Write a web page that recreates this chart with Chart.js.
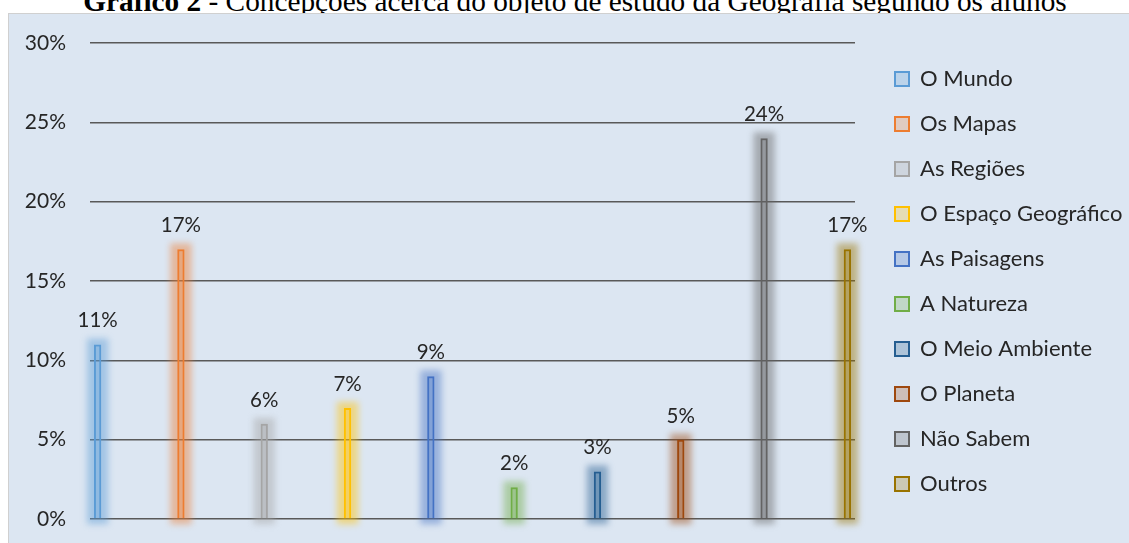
<!DOCTYPE html>
<html>
<head>
<meta charset="utf-8">
<script src="https://cdn.jsdelivr.net/npm/chart.js@4/dist/chart.umd.min.js"></script>
<style>
  body { margin: 0; background: #fff; width: 1129px; height: 543px; overflow: hidden; position: relative; }
  #title {
    position: absolute; left: 0; width: 1150px; top: -13px; text-align: center;
    font-family: "Liberation Serif", "Times New Roman", serif; font-size: 29.3px; line-height: 29px;
    color: #000; white-space: nowrap;
  }
  #box {
    position: absolute; left: 8px; top: 13px; width: 1130px; height: 540px;
    background: #dce6f2; border: 1px solid #d0d0d0;
  }
  #wrap { position: absolute; left: 9px; top: 14px; width: 1120px; height: 529px; }
</style>
</head>
<body>
<div id="title"><b>Gráfico 2</b> - Concepções acerca do objeto de estudo da Geografia segundo os alunos</div>
<div id="box"></div>
<div id="wrap"><canvas id="chart"></canvas></div>
<script>
const categories = [''];
const series = ['O Mundo', 'Os Mapas', 'As Regiões', 'O Espaço Geográfico', 'As Paisagens',
  'A Natureza', 'O Meio Ambiente', 'O Planeta', 'Não Sabem', 'Outros'];
const values = [11, 17, 6, 7, 9, 2, 3, 5, 24, 17];
const colors = ['#5b9bd5', '#ed7d31', '#a5a5a5', '#ffc000', '#4472c4',
  '#70ad47', '#255e91', '#9e480e', '#636363', '#997300'];

const FONT = 'Lato';
const LEGEND_SIZE = 22;
const LEGEND_PAD = 23;

function alpha(hex, a) {
  const n = parseInt(hex.slice(1), 16);
  return `rgba(${(n >> 16) & 255}, ${(n >> 8) & 255}, ${n & 255}, ${a})`;
}

// soft glow behind each bar
const glow = {
  id: 'glow',
  beforeDatasetDraw(chart, args) {
    const ctx = chart.ctx;
    const bar = args.meta.data[0];
    const w = bar.width + 14;
    ctx.save();
    ctx.filter = 'blur(3px)';
    ctx.fillStyle = alpha(colors[args.index], 0.45);
    ctx.fillRect(bar.x - w / 2, bar.y - 6, w, bar.base - bar.y + 12);
    ctx.restore();
  }
};

// value labels above bars
const valueLabels = {
  id: 'valueLabels',
  afterDatasetsDraw(chart) {
    const ctx = chart.ctx;
    ctx.save();
    ctx.font = `20.5px ${FONT}`;
    ctx.fillStyle = '#262626';
    ctx.textAlign = 'center';
    ctx.textBaseline = 'alphabetic';
    chart.data.datasets.forEach((ds, i) => {
      const bar = chart.getDatasetMeta(i).data[0];
      ctx.fillText(ds.data[0] + '%', bar.x, bar.y - 17);
    });
    ctx.restore();
  }
};

new Chart(document.getElementById('chart'), {
  type: 'bar',
  data: {
    labels: categories,
    datasets: series.map((name, i) => ({
      label: name,
      data: [values[i]],
      backgroundColor: alpha(colors[i], 0.25),
      borderColor: colors[i],
      borderWidth: 2,
      categoryPercentage: 1.089,
      barPercentage: 0.088
    }))
  },
  options: {
    responsive: true,
    maintainAspectRatio: false,
    animation: false,
    layout: { padding: { top: 6, right: 0, bottom: 0, left: 0 } },
    plugins: {
      legend: {
        position: 'right',
        maxWidth: 257,
        labels: {
          boxWidth: 14,
          boxHeight: 14,
          padding: LEGEND_PAD,
          color: '#262626',
          font: { family: FONT, size: LEGEND_SIZE }
        }
      },
      tooltip: { enabled: false }
    },
    scales: {
      x: {
        ticks: { display: false },
        grid: { display: false },
        border: { display: false },
        afterFit: s => { s.height = 24; }
      },
      x2: {
        type: 'category',
        position: 'top',
        ticks: { display: false },
        grid: { display: false },
        border: { display: false },
        afterFit: s => { s.height = 23; }
      },
      y: {
        min: 0,
        max: 30,
        ticks: {
          stepSize: 5,
          padding: 24,
          color: '#262626',
          font: { family: FONT, size: 21 },
          callback: v => v + '%'
        },
        grid: { color: '#595959', lineWidth: 1.5, drawTicks: false },
        border: { display: false },
        afterFit: s => {
          s.width = 81;
          s.paddingTop = 0;
          s.paddingBottom = 0;
        }
      },
      y2: {
        position: 'right',
        ticks: { display: false },
        grid: { display: false },
        border: { display: false },
        afterFit: s => { s.width = 17; }
      }
    }
  },
  plugins: [glow, valueLabels]
});
</script>
</body>
</html>
